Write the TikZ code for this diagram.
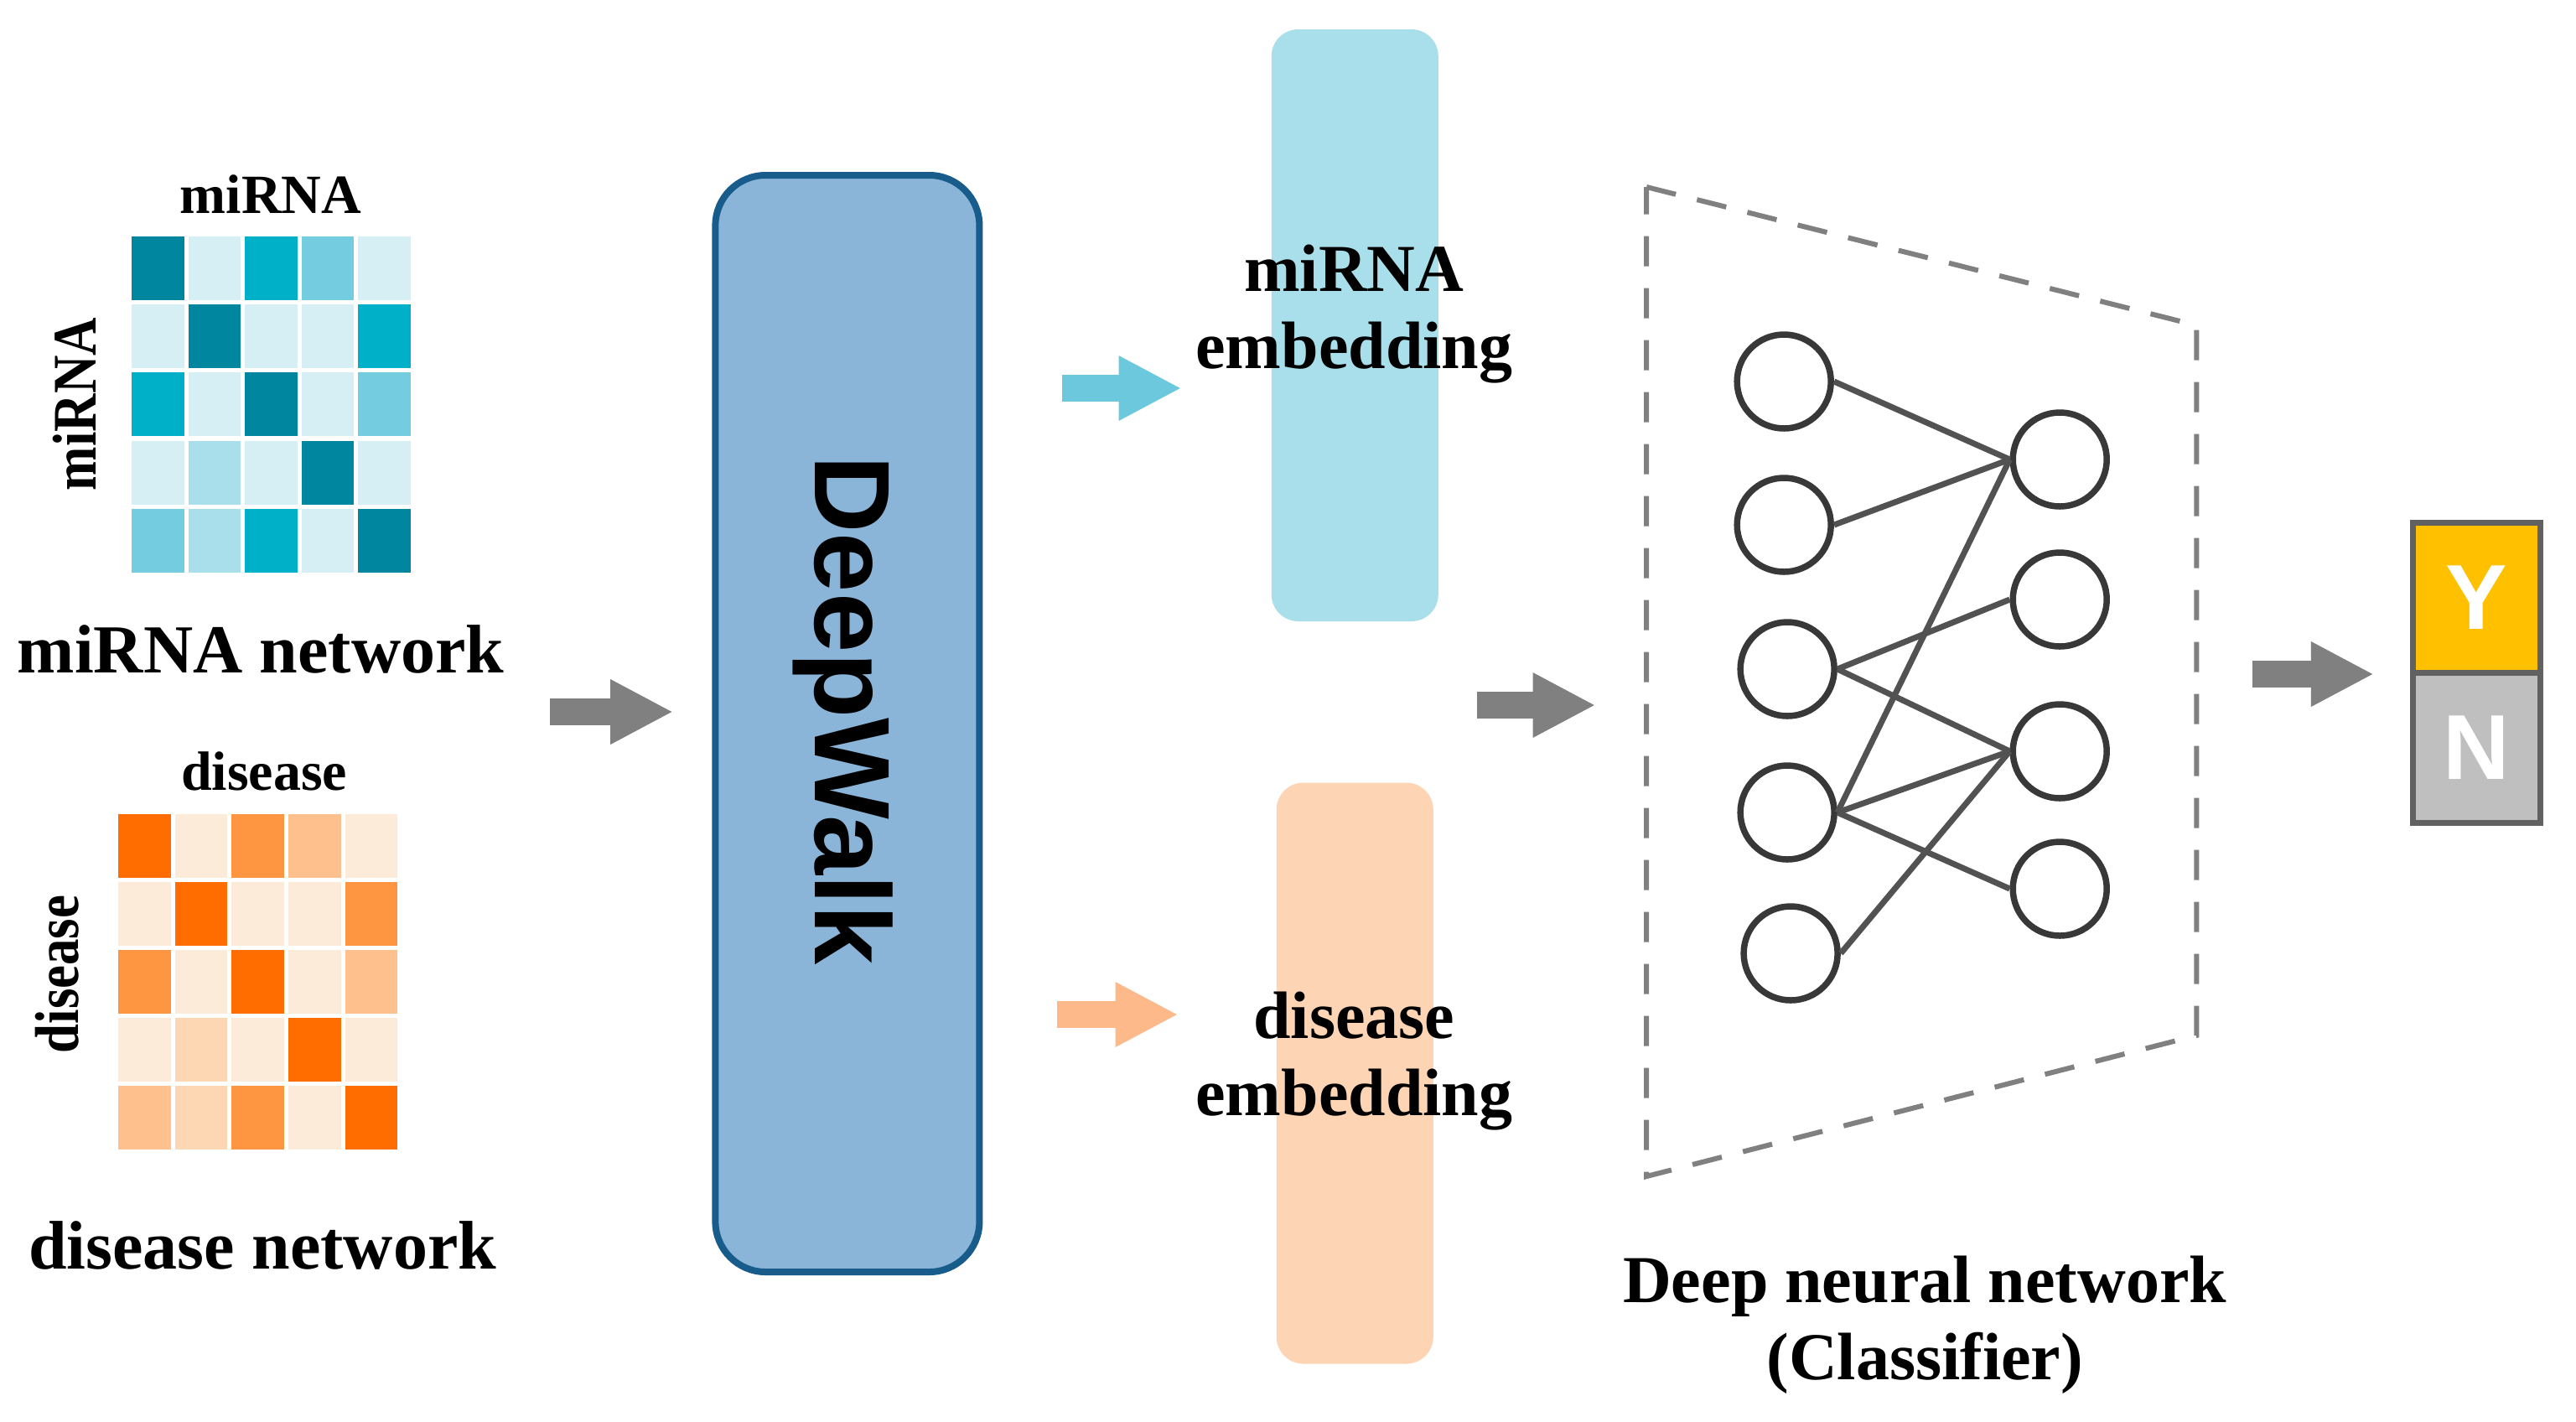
\documentclass[tikz,border=0pt]{standalone}
\usepackage{fontspec}
\setmainfont{Liberation Serif}
\newfontfamily\sansf{Liberation Sans}
\usetikzlibrary{arrows.meta}
\begin{document}
\definecolor{bD}{HTML}{00869F}\definecolor{bM}{HTML}{00AFC8}\definecolor{bLM}{HTML}{73CCDF}\definecolor{bLa}{HTML}{A8DFEA}\definecolor{bLb}{HTML}{D5EFF5}
\definecolor{oD}{HTML}{FF6D00}\definecolor{oM}{HTML}{FE9540}\definecolor{oLM}{HTML}{FEC18E}\definecolor{oLa}{HTML}{FDD6B4}\definecolor{oLb}{HTML}{FDEBDA}
\definecolor{garr}{HTML}{808080}
\definecolor{barr}{RGB}{108,200,220}
\definecolor{oarr}{RGB}{253,185,138}
\definecolor{dwfill}{RGB}{138,180,216}
\definecolor{dwdraw}{RGB}{24,92,140}
\definecolor{memb}{RGB}{168,223,234}
\definecolor{demb}{RGB}{253,213,181}
\definecolor{ycol}{RGB}{255,192,0}
\definecolor{ncol}{RGB}{191,191,191}
\tikzset{
  lbl/.style={font=\fontsize{82}{90}\selectfont\bfseries, align=center},
  sublbl/.style={font=\fontsize{66}{72}\selectfont\bfseries},
  sidelbl/.style={font=\fontsize{74}{80}\selectfont\bfseries, rotate=90},
  emb/.style={font=\fontsize{80}{92}\selectfont\bfseries, align=center},
  neuron/.style={circle, draw=black!78, line width=7.5pt, minimum size=112pt, inner sep=0pt},
  syn/.style={draw=black!68, line width=7pt},
  fat/.style={line width=#1, -{Triangle[length=75pt,width=72pt]}},
  outbox/.style={draw=black!62, line width=7pt, minimum width=152pt, minimum height=179pt, inner sep=0pt, font=\sansf\fontsize{110}{110}\selectfont\bfseries, text=white},
}
\begin{tikzpicture}[x=0.994pt,y=-1pt]
\useasboundingbox (0,0) rectangle (3091.5,1695);
\fill[white] (0,0) rectangle (3091.5,1695);
% matrices
\foreach \r/\row in {0/{D,Lb,M,LM,Lb},1/{Lb,D,Lb,Lb,M},2/{M,Lb,D,Lb,LM},3/{Lb,La,Lb,D,Lb},4/{LM,La,M,Lb,D}}{
  \foreach \c [count=\i from 0] in \row {
    \fill[b\c] (158+\i*68, 282+\r*81.2) rectangle ++(63,76);
    \fill[o\c] (142+\i*68, 971+\r*81) rectangle ++(63,76);
  }
}
\node[sublbl] (mtop) at (325,232) {miRNA};
\node[sidelbl, xscale=0.85] (mside) at (89,482) {miRNA};
\node[lbl] (mnet) at (313,774) {miRNA network};
\node[sublbl] (dtop) at (317,920) {disease};
\node[sidelbl, xscale=0.85] (dside) at (69,1162) {disease};
\node[lbl] (dnet) at (315,1485) {disease network};
% deepwalk
\node[draw=dwdraw, line width=8pt, fill=dwfill, rounded corners=60pt, minimum width=315pt, minimum height=1308pt] (dw) at (1017,863) {};
\node[font=\sansf\fontsize{128}{130}\selectfont\bfseries, rotate=-90] (dwt) at (1012,847) {DeepWalk};
% embeddings
\node[fill=memb, rounded corners=32pt, minimum width=199pt, minimum height=706pt] (me) at (1626,388) {};
\node[fill=demb, rounded corners=32pt, minimum width=187pt, minimum height=693pt] (de) at (1626,1280) {};
\node[emb] (met) at (1625,375) {miRNA\\embedding};
\node[emb] (det) at (1625,1266) {disease\\embedding};
% arrows
\coordinate (a1s) at (660,849); \coordinate (a1e) at (808,849);
\coordinate (a2s) at (1275,463); \coordinate (a2e) at (1418,463);
\coordinate (a3s) at (1269,1210); \coordinate (a3e) at (1414,1210);
\coordinate (a4s) at (1773,841); \coordinate (a4e) at (1915,841);
\coordinate (a5s) at (2703,804); \coordinate (a5e) at (2849,804);
\draw[garr, fat=32pt] (a1s) -- (a1e);
\draw[barr, fat=32pt] (a2s) -- (a2e);
\draw[oarr, fat=32pt] (a3s) -- (a3e);
\draw[garr, fat=32pt] (a4s) -- (a4e);
\draw[garr, fat=32pt] (a5s) -- (a5e);
% trapezoid
\coordinate (t1) at (1976,223); \coordinate (t2) at (2636,388); \coordinate (t3) at (2636,1235); \coordinate (t4) at (1976,1403);
\draw[garr, line width=6pt, dash pattern=on 36pt off 26pt] (t1) -- (t2) -- (t3) -- (t4) -- cycle;
% neurons
\node[neuron] (L1) at (2141,455) {};
\node[neuron] (L2) at (2141,626) {};
\node[neuron] (L3) at (2145,798) {};
\node[neuron] (L4) at (2145,969) {};
\node[neuron] (L5) at (2149,1137) {};
\node[neuron] (R1) at (2472,548) {};
\node[neuron] (R2) at (2472,715) {};
\node[neuron] (R3) at (2472,896) {};
\node[neuron] (R4) at (2472,1060) {};
\foreach \a/\b in {L1/R1,L2/R1,L4/R1,L3/R2,L3/R3,L4/R3,L4/R4,L5/R3}{
  \draw[syn] (\a.east) -- (\b.west);
}
% output
\node[outbox, fill=ycol] (Y) at (2972,713) {Y};
\node[outbox, fill=ncol] (N) at (2972,892) {N};
\node[emb] (dnn) at (2310,1580) {Deep neural network\\(Classifier)};
\end{tikzpicture}
\end{document}
